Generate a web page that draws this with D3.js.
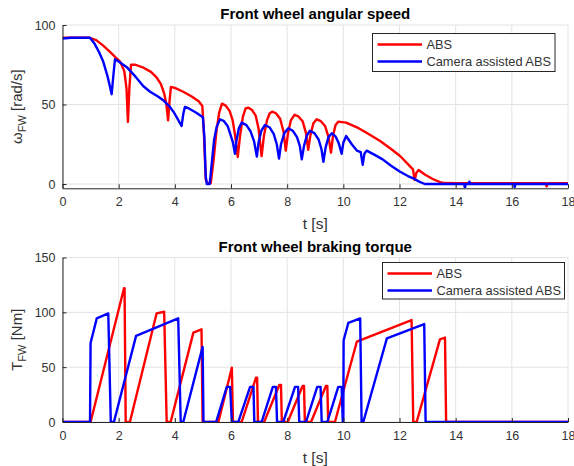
<!DOCTYPE html>
<html>
<head>
<meta charset="utf-8">
<script src="https://cdn.jsdelivr.net/npm/d3@7"></script>
<style>
  html, body { margin: 0; padding: 0; background: #fff; }
  svg { display: block; font-family: "Liberation Sans", Arial, sans-serif; }
</style>
</head>
<body>
<svg id="chart" width="574" height="466"></svg>
<script>
// Series names and colours
const seriesNames = ["ABS", "Camera assisted ABS"];
const seriesColors = ["#ff0000", "#0000ff"];

// Time ticks shared by both panels
const timeTicks = [0, 2, 4, 6, 8, 10, 12, 14, 16, 18];
const speedTicks = [0, 50, 100];
const torqueTicks = [0, 50, 100, 150];

// Front wheel angular speed, ABS [s], [rad/s]
const speedAbsT = [0, 0.95, 1.2, 1.45, 1.7, 1.9, 2.05, 2.2, 2.28, 2.33, 2.38, 2.44, 2.6, 2.9, 3.15, 3.35, 3.5, 3.62, 3.7, 3.76, 3.81, 3.86, 4.0, 4.3, 4.6, 4.85, 4.98, 5.04, 5.1, 5.15, 5.28, 5.38, 5.48, 5.58, 5.68, 5.8, 5.95, 6.06, 6.15, 6.24, 6.32, 6.42, 6.52, 6.62, 6.75, 6.88, 6.98, 7.09, 7.17, 7.28, 7.38, 7.47, 7.6, 7.75, 7.87, 7.95, 8.03, 8.13, 8.26, 8.4, 8.55, 8.67, 8.75, 8.82, 8.93, 9.05, 9.2, 9.35, 9.48, 9.56, 9.63, 9.72, 9.82, 10.1, 10.5, 10.9, 11.31, 11.7, 12.02, 12.3, 12.48, 12.54, 12.6, 12.68, 12.9, 13.2, 13.45, 13.6, 14.0, 17.2, 17.24, 17.28, 18];
const speedAbs = [92, 92, 90.5, 87, 83, 79.5, 77, 71, 60, 39, 60, 75, 75, 73, 70.5, 67, 63, 57, 50, 40, 52, 61, 60.5, 58, 55, 52, 49, 30, 3, 0.5, 0.5, 15, 33, 45, 50.5, 49.5, 46, 40, 30, 17, 30, 42, 47.5, 48, 46.5, 43, 35, 17.5, 30, 40, 44.5, 45.5, 44.5, 41, 33, 21, 32, 40, 43.5, 42.5, 39.5, 32, 21.5, 30, 38, 40.7, 39.5, 36.5, 29, 19.7, 30, 37, 39.2, 38.6, 35.5, 31.5, 27, 22, 17.6, 12.5, 9.2, 2.5, 7, 8.8, 6, 3, 1.2, 0.6, 0.5, 0.5, -1.5, 0.5, 0.5];

// Front wheel angular speed, camera assisted ABS
const speedCamT = [0, 0.3, 0.98, 1.15, 1.3, 1.45, 1.6, 1.68, 1.75, 1.81, 1.87, 2.0, 2.29, 2.6, 2.88, 3.12, 3.4, 3.6, 3.8, 3.95, 4.1, 4.24, 4.3, 4.36, 4.5, 4.75, 5.0, 5.05, 5.1, 5.14, 5.24, 5.32, 5.4, 5.49, 5.61, 5.75, 5.88, 5.98, 6.07, 6.14, 6.2, 6.28, 6.38, 6.55, 6.7, 6.82, 6.92, 6.98, 7.08, 7.21, 7.38, 7.52, 7.63, 7.71, 7.78, 7.9, 8.04, 8.2, 8.35, 8.45, 8.52, 8.6, 8.7, 8.81, 8.97, 9.12, 9.22, 9.29, 9.37, 9.47, 9.59, 9.72, 9.83, 9.94, 10.0, 10.1, 10.3, 10.48, 10.62, 10.69, 10.75, 10.83, 11.1, 11.4, 11.7, 12.02, 12.3, 12.49, 12.7, 12.9, 14.3, 14.33, 14.36, 14.47, 14.49, 14.52, 16.08, 16.1, 16.13, 18];
const speedCam = [91.5, 92, 92, 88, 83, 77, 68, 62, 56.5, 68, 78.5, 77, 73.5, 67.5, 61.5, 58, 55, 52.5, 49, 45.5, 41, 36.5, 44, 48.5, 47.5, 45, 42, 30, 5, 0, 0, 14, 28, 36, 40.7, 39.5, 36.5, 31, 26, 19, 28, 35, 38.6, 37, 33, 27, 17.2, 26, 33.5, 37.1, 35.5, 31.5, 25, 16, 25, 32, 35, 33.5, 29.5, 24, 15.5, 24, 30.5, 33.5, 32, 28, 22, 14, 23, 29.5, 31.9, 30, 26, 19, 26, 30.2, 25, 21, 20, 12, 19, 21, 18.5, 15.5, 11.5, 7.7, 5, 3.6, 1.5, 0, 0, -2.3, 0, 0, 1.5, 0, 0, -2, 0, 0];

// Front wheel braking torque, ABS [s], [Nm]
const torqueAbsT = [0, 1.0, 2.19, 2.21, 2.25, 2.4, 3.35, 3.62, 3.71, 3.85, 4.66, 4.95, 4.99, 5.55, 6.03, 6.07, 6.38, 6.89, 6.93, 6.96, 7.18, 7.72, 7.78, 7.81, 8.02, 8.55, 8.6, 8.63, 8.85, 9.38, 9.43, 9.46, 9.7, 10.48, 12.43, 12.49, 12.61, 13.44, 13.62, 13.66, 18];
const torqueAbs = [0, 0, 122, 122, 0, 0, 99, 100.5, 0, 0, 81.5, 84.5, 0, 0, 49.5, 0, 0, 40.5, 40.5, 0, 0, 33.7, 33.7, 0, 0, 32.8, 32.8, 0, 0, 32.8, 32.8, 0, 0, 73.2, 93, 0, 0, 75.4, 77, 0, 0];

// Front wheel braking torque, camera assisted ABS
const torqueCamT = [0, 0.98, 1.0, 1.22, 1.63, 1.72, 1.83, 2.62, 4.12, 4.21, 4.3, 4.99, 5.02, 5.47, 5.85, 5.97, 6.03, 6.26, 6.68, 6.8, 6.83, 7.09, 7.49, 7.6, 7.64, 7.86, 8.28, 8.39, 8.43, 8.67, 9.07, 9.19, 9.23, 9.43, 9.82, 9.94, 9.98, 10.0, 10.01, 10.18, 10.6, 10.65, 10.71, 11.55, 12.88, 12.93, 18];
const torqueCam = [0, 0, 72, 94.5, 99, 0, 0, 78.5, 94.5, 0, 0, 68.5, 0, 0, 32, 32, 0, 0, 32, 32, 0, 0, 32, 32, 0, 0, 32, 32, 0, 0, 32, 32, 0, 0, 32, 32, 0, 0, 74.5, 90.5, 94.5, 0, 0, 76.3, 89.3, 0, 0];

const svg = d3.select("#chart");
const textColor = "#262626";
const gridColor = "#e3e3e3";

function panel(opts) {
  const { top, bottom, yDomain, yTicks, title, titleY, xLabelY, yLabel, series, legendBox } = opts;
  const left = 62.5, right = 568;
  const x = d3.scaleLinear().domain([0, 18]).range([left, right]);
  const y = d3.scaleLinear().domain(yDomain).range([bottom, top]);
  const g = svg.append("g");

  // grid
  g.append("g").selectAll("line").data(timeTicks).join("line")
    .attr("x1", d => x(d)).attr("x2", d => x(d))
    .attr("y1", top).attr("y2", bottom)
    .attr("stroke", gridColor).attr("stroke-width", 1);
  g.append("g").selectAll("line").data(yTicks).join("line")
    .attr("x1", left).attr("x2", right)
    .attr("y1", d => y(d)).attr("y2", d => y(d))
    .attr("stroke", gridColor).attr("stroke-width", 1);

  // data lines
  const clipId = "clip" + Math.round(top);
  g.append("clipPath").attr("id", clipId).append("rect")
    .attr("x", left).attr("y", top - 2).attr("width", right - left).attr("height", bottom - top + 2);
  const line = d3.line().x(d => x(d[0])).y(d => y(d[1]));
  series.forEach((s, i) => {
    g.append("path")
      .datum(d3.zip(s.t, s.v))
      .attr("clip-path", `url(#${clipId})`)
      .attr("d", line)
      .attr("fill", "none")
      .attr("stroke", seriesColors[i])
      .attr("stroke-width", 2.4)
      .attr("stroke-linejoin", "round");
  });

  // axes
  const xAxis = d3.axisBottom(x).tickValues(timeTicks).tickSizeInner(-4).tickSizeOuter(0).tickPadding(9);
  const yAxis = d3.axisLeft(y).tickValues(yTicks).tickSizeInner(-4).tickSizeOuter(0).tickPadding(7);
  const gx = g.append("g").attr("transform", `translate(0,${bottom})`).call(xAxis);
  const gy = g.append("g").attr("transform", `translate(${left},0)`).call(yAxis);
  [gx, gy].forEach(a => {
    a.select(".domain").attr("stroke", textColor).attr("stroke-width", 1);
    a.selectAll(".tick line").attr("stroke", textColor);
    a.selectAll(".tick text").attr("fill", "#333").attr("font-size", 12.5)
      .attr("font-family", "Liberation Sans, Arial, sans-serif");
  });
  gx.selectAll(".tick text").attr("dy", "0.71em");

  // title
  g.append("text").attr("x", (left + right) / 2).attr("y", titleY)
    .attr("text-anchor", "middle").attr("font-weight", "bold").attr("font-size", 15)
    .attr("fill", "#000").text(title);

  // x label
  g.append("text").attr("x", (left + right) / 2).attr("y", xLabelY)
    .attr("text-anchor", "middle").attr("font-size", 15.5).attr("fill", "#333").text("t [s]");

  // y label with subscript
  const yl = g.append("text")
    .attr("transform", `translate(22,${(top + bottom) / 2}) rotate(-90)`)
    .attr("text-anchor", "middle").attr("font-size", 15).attr("fill", "#333");
  yl.append("tspan").text(yLabel[0]);
  yl.append("tspan").attr("font-size", 11).attr("dy", 4).text(yLabel[1]);
  yl.append("tspan").attr("dy", -4).text(" " + yLabel[2]);

  // legend
  const lg = g.append("g");
  lg.append("rect").attr("x", legendBox.x).attr("y", legendBox.y)
    .attr("width", legendBox.w).attr("height", legendBox.h)
    .attr("fill", "#fff").attr("stroke", textColor).attr("stroke-width", 1);
  seriesNames.forEach((name, i) => {
    const ly = legendBox.y + 11 + i * 17;
    lg.append("line").attr("x1", legendBox.x + 5).attr("x2", legendBox.x + 49.5)
      .attr("y1", ly).attr("y2", ly)
      .attr("stroke", seriesColors[i]).attr("stroke-width", 2.4);
    lg.append("text").attr("x", legendBox.x + 54).attr("y", ly + 4.5)
      .attr("font-size", 12.8).attr("fill", "#333").text(name);
  });
}

panel({
  top: 25, bottom: 188.3, yDomain: [-2.7, 100], yTicks: speedTicks,
  title: "Front wheel angular speed", titleY: 18.5, xLabelY: 229,
  yLabel: ["ω", "FW", "[rad/s]"],
  series: [{ t: speedAbsT, v: speedAbs }, { t: speedCamT, v: speedCam }],
  legendBox: { x: 372.5, y: 33.5, w: 182.5, h: 38 }
});

panel({
  top: 257.5, bottom: 422, yDomain: [0, 150], yTicks: torqueTicks,
  title: "Front wheel braking torque", titleY: 251.5, xLabelY: 462.5,
  yLabel: ["T", "FW", "[Nm]"],
  series: [{ t: torqueAbsT, v: torqueAbs }, { t: torqueCamT, v: torqueCam }],
  legendBox: { x: 382.5, y: 262.5, w: 182, h: 36.5 }
});
</script>
</body>
</html>
